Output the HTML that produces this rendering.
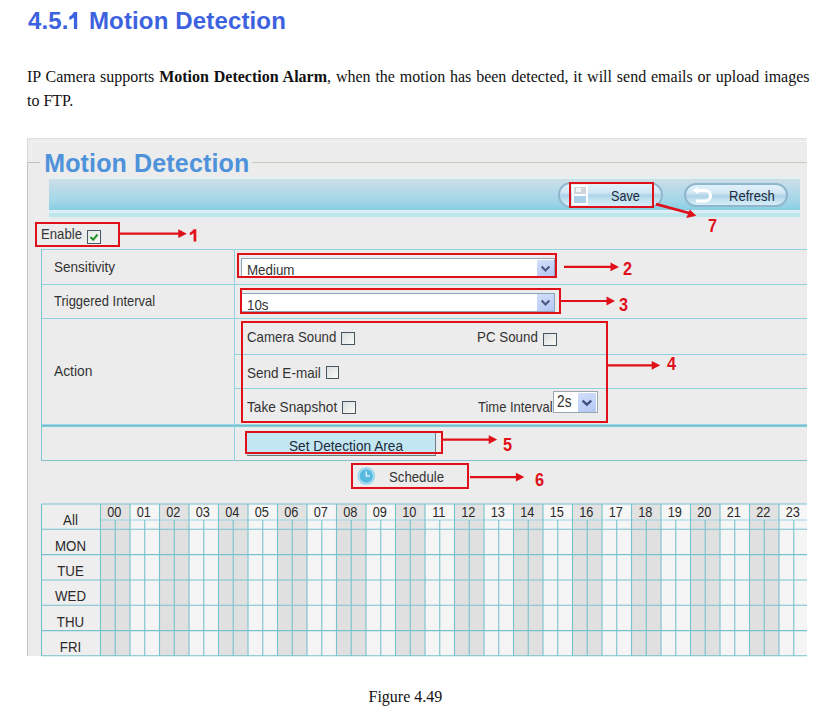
<!DOCTYPE html>
<html><head><meta charset="utf-8">
<style>
html,body{margin:0;padding:0;background:#fff;width:820px;height:709px;overflow:hidden;position:relative;}
.a{position:absolute;}
.t{position:absolute;line-height:1;white-space:nowrap;font-family:"Liberation Sans",sans-serif;}
.s{position:absolute;line-height:1;white-space:nowrap;font-family:"Liberation Serif",serif;color:#111;}
.ui{font-size:15px;color:#333333;transform-origin:0 0;transform:scaleX(0.92);}
.rb{position:absolute;border:2px solid #e0101a;box-sizing:border-box;}
.cb{position:absolute;width:13.7px;height:13.2px;box-sizing:border-box;border:1px solid #485662;background:linear-gradient(135deg,#d8e0e2,#fafaf4);}
.sel{position:absolute;box-sizing:border-box;border:1px solid #8ea4b8;background:#fff;}
.dd{position:absolute;box-sizing:border-box;background:linear-gradient(160deg,#d2defa,#b4c8f4);}
.num{position:absolute;line-height:1;font-family:"Liberation Sans",sans-serif;font-weight:bold;color:#e0101a;font-size:18.5px;transform-origin:0 0;transform:scaleX(0.88);}
</style></head>
<body>
<!-- Heading -->
<div class="t" style="left:28px;top:8.5px;font-size:24px;font-weight:bold;color:#3d62e0;letter-spacing:0.15px;">4.5.<span style="display:inline-block;width:13.49px;"></span> Motion Detection</div>
<svg class="a" style="left:60px;top:8px;" width="30" height="25"><path d="M13.9 4 H17.2 V20.9 H13.9 V9.6 Q11.6 11.2 9.3 11.9 V8.6 Q12.6 7.2 13.9 4 Z" fill="#3d62e0"/></svg>
<!-- Paragraph -->
<div class="s" style="left:27px;top:69.3px;font-size:16px;width:782.5px;text-align:justify;text-align-last:justify;white-space:normal;">IP Camera supports <b>Motion Detection Alarm</b>, when the motion has been detected, it will send emails or upload images</div>
<div class="s" style="left:27px;top:92.5px;font-size:16px;">to FTP.</div>

<!-- Panel -->
<div class="a" style="left:27px;top:138px;width:780px;height:518px;background:#ececec;"></div>
<!-- fieldset lines -->
<div class="a" style="left:27px;top:138px;width:780px;height:1px;background:#e2e2e2;"></div>
<div class="a" style="left:31px;top:141px;width:776px;height:1px;background:#f3f3f3;"></div>
<div class="a" style="left:31px;top:141px;width:1px;height:21px;background:#f3f3f3;"></div>
<div class="a" style="left:27px;top:162px;width:13px;height:1px;background:#c0c0b8;"></div>
<div class="a" style="left:27px;top:138px;width:1px;height:24px;background:#dcdcdc;"></div>
<div class="a" style="left:27px;top:162px;width:1px;height:494px;background:#c4c4c4;"></div>
<div class="a" style="left:252px;top:162px;width:555px;height:1px;background:#cac7bb;"></div>
<div class="t" style="left:44.2px;top:151.3px;font-size:25px;font-weight:bold;color:#4d92da;letter-spacing:0.15px;">Motion Detection</div>

<!-- Blue bar -->
<div class="a" style="left:49px;top:176.5px;width:751px;height:2.5px;background:#e2f1f4;"></div>
<div class="a" style="left:49px;top:179px;width:751px;height:31px;background:linear-gradient(180deg,#cddee5 0%,#badbe9 30%,#a3d6e8 70%,#88cfe2 100%);"></div>
<div class="a" style="left:49px;top:210px;width:751px;height:3px;background:#dcedf8;"></div>
<div class="a" style="left:49px;top:213px;width:751px;height:4px;background:#bce6ea;"></div>
<div class="a" style="left:49px;top:217px;width:751px;height:3px;background:#e7eaef;"></div>

<!-- Save / Refresh buttons -->
<div class="a" style="left:557.5px;top:181.5px;width:105.5px;height:26.5px;box-sizing:border-box;border:2px solid #8fb6cc;border-radius:13.5px;background:linear-gradient(180deg,#e2f1fa 0%,#d2e8f5 38%,#aed3e8 52%,#c2e2f1 72%,#d6edf8 100%);"></div>
<div class="a" style="left:571.5px;top:185px;width:16px;height:20px;background:#fbfdff;"></div>
<div class="a" style="left:573.5px;top:187px;width:12px;height:7px;background:#cfd5dc;"></div>
<div class="a" style="left:576px;top:188px;width:5px;height:4px;background:#f2f5f8;"></div>
<div class="a" style="left:573.5px;top:196px;width:12px;height:7px;background:#acd0e6;"></div>
<div class="t ui" style="left:610.7px;top:188.27px;color:#1d2a3a;transform:scaleX(0.841);">Save</div>
<div class="a" style="left:683.8px;top:182.8px;width:104.5px;height:24px;box-sizing:border-box;border:2px solid #8fb6cc;border-radius:12px;background:linear-gradient(180deg,#e2f1fa 0%,#d2e8f5 38%,#aed3e8 55%,#c2e2f1 75%,#d6edf8 100%);"></div>
<svg class="a" style="left:688px;top:184px;" width="30" height="22" viewBox="0 0 30 22"><path d="M8.5 6.5 H18 A5.3 5.3 0 0 1 18 17 H8" fill="none" stroke="#fff" stroke-width="3"/><path d="M4.5 6.5 L10 3 L10 10 Z" fill="#fff"/></svg>
<div class="t ui" style="left:728.7px;top:188.27px;color:#1d2a3a;transform:scaleX(0.870);">Refresh</div>

<!-- Enable -->
<div class="t ui" style="left:41.4px;top:226.47px;transform:scaleX(0.877);">Enable</div>
<div class="cb" style="left:87px;top:230px;width:14px;height:14px;border-color:#4a5866;background:linear-gradient(135deg,#e6eae6,#f6fbf6);"></div>
<svg class="a" style="left:87px;top:230px;" width="14" height="14"><path d="M3.5 7 L6.2 9.8 L10.5 4.5" fill="none" stroke="#2a902e" stroke-width="2"/></svg>

<!-- Form table lines -->
<div class="a" style="left:41px;top:249px;width:766px;height:1px;background:#90d2e0;"></div>
<div class="a" style="left:41px;top:284px;width:766px;height:1px;background:#90d2e0;"></div>
<div class="a" style="left:41px;top:318px;width:766px;height:1px;background:#90d2e0;"></div>
<div class="a" style="left:235px;top:354px;width:572px;height:1px;background:#90d2e0;"></div>
<div class="a" style="left:235px;top:388px;width:572px;height:1px;background:#90d2e0;"></div>
<div class="a" style="left:41px;top:424px;width:766px;height:1px;background:#9ed6e4;"></div>
<div class="a" style="left:41px;top:425px;width:766px;height:1px;background:#74bccc;"></div>
<div class="a" style="left:41px;top:426px;width:766px;height:1px;background:#88cad8;"></div>
<div class="a" style="left:41px;top:427px;width:766px;height:1px;background:#dcedf0;"></div>
<div class="a" style="left:41px;top:460px;width:766px;height:1px;background:#88c2ce;"></div>
<div class="a" style="left:41px;top:249px;width:1px;height:212px;background:#7fc6d6;"></div>
<div class="a" style="left:234px;top:249px;width:1px;height:212px;background:#90d2e0;"></div>

<div class="t ui" style="left:54.3px;top:259.4px;transform:scaleX(0.903);">Sensitivity</div>
<div class="t ui" style="left:53.6px;top:293.07px;transform:scaleX(0.864);">Triggered Interval</div>
<div class="t ui" style="left:54px;top:362.87px;transform:scaleX(0.92);">Action</div>

<!-- selects -->
<div class="sel" style="left:241px;top:258px;width:314px;height:18.5px;"></div>
<div class="dd" style="left:536.8px;top:259.5px;width:17px;height:16.5px;"></div>
<svg class="a" style="left:536.8px;top:259.5px;" width="17" height="17"><path d="M4.6 6.5 L8.5 10.5 L12.4 6.5" fill="none" stroke="#4a5a82" stroke-width="2.2"/></svg>
<div class="t ui" style="left:246.5px;top:261.57px;transform:scaleX(0.89);">Medium</div>

<div class="sel" style="left:241px;top:292.5px;width:314px;height:19px;"></div>
<div class="dd" style="left:536.8px;top:294px;width:17px;height:16.5px;"></div>
<svg class="a" style="left:536.8px;top:294px;" width="17" height="17"><path d="M4.6 6.5 L8.5 10.5 L12.4 6.5" fill="none" stroke="#4a5a82" stroke-width="2.2"/></svg>
<div class="t ui" style="left:246.5px;top:296.67px;transform:scaleX(0.89);">10s</div>

<!-- action -->
<div class="t ui" style="left:246.9px;top:328.8px;transform:scaleX(0.885);">Camera Sound</div>
<div class="cb" style="left:341.2px;top:331.8px;"></div>
<div class="t ui" style="left:476.7px;top:329.17px;transform:scaleX(0.89);">PC Sound</div>
<div class="cb" style="left:543px;top:332.5px;"></div>
<div class="t ui" style="left:246.9px;top:365.07px;transform:scaleX(0.902);">Send E-mail</div>
<div class="cb" style="left:325.5px;top:365.5px;"></div>
<div class="t ui" style="left:246.9px;top:398.87px;transform:scaleX(0.909);">Take Snapshot</div>
<div class="cb" style="left:342px;top:401px;"></div>
<div class="t ui" style="left:477.6px;top:398.87px;transform:scaleX(0.866);">Time Interval</div>
<div class="sel" style="left:553.2px;top:391.2px;width:45px;height:22.3px;border-color:#9aa6b0;"></div>
<div class="dd" style="left:578.3px;top:392.7px;width:17.5px;height:19px;"></div>
<svg class="a" style="left:578.3px;top:392.7px;" width="18" height="19"><path d="M4.6 7.6 L8.9 11.6 L13.2 7.6" fill="none" stroke="#3f5380" stroke-width="2.4"/></svg>
<div class="t ui" style="left:557px;top:394.4px;font-size:16px;transform:scaleX(0.86);">2s</div>

<!-- Set Detection Area -->
<div class="a" style="left:247px;top:433px;width:189px;height:22.7px;background:#c2e7f3;border-right:1.5px solid #6f7c88;border-bottom:1.5px solid #6c7874;box-sizing:border-box;"></div>
<div class="t ui" style="left:289.3px;top:437.5px;color:#1d2a3a;transform:scaleX(0.912);">Set Detection Area</div>

<!-- Schedule -->
<svg class="a" style="left:356px;top:466px;" width="21" height="21" viewBox="0 0 21 21"><circle cx="10.3" cy="10" r="8.8" fill="#8fd2ec"/><circle cx="10.3" cy="10" r="7.6" fill="#c4e9f6"/><circle cx="10.3" cy="10" r="6.8" fill="#58b9e0"/><path d="M10.3 5.2 V10.2 H14" fill="none" stroke="#e8f6fb" stroke-width="1.3"/></svg>
<div class="t ui" style="left:388.8px;top:469.07px;transform:scaleX(0.880);">Schedule</div>

<!-- Red boxes -->
<div class="rb" style="left:34.6px;top:221.8px;width:85px;height:25.7px;"></div>
<div class="rb" style="left:237.4px;top:253.3px;width:320px;height:25.2px;"></div>
<div class="rb" style="left:240.3px;top:288.2px;width:321px;height:25.8px;"></div>
<div class="rb" style="left:241px;top:320.5px;width:367px;height:102.5px;"></div>
<div class="rb" style="left:245.3px;top:430.9px;width:198.2px;height:23px;"></div>
<div class="rb" style="left:351px;top:462.8px;width:117.8px;height:26.1px;"></div>
<div class="rb" style="left:568.7px;top:181.9px;width:85px;height:25.7px;"></div>

<!-- arrows -->
<svg class="a" style="left:0;top:0;" width="820" height="709">
<g stroke="#e0101a" stroke-width="2.2" fill="#e0101a">
<line x1="119" y1="233.7" x2="179.3" y2="233.7"/><path d="M178.3 229.3 L186.8 233.7 L178.3 238.1 Z" stroke="none"/>
<line x1="564" y1="266.9" x2="611.5" y2="266.9"/><path d="M610.5 262.5 L619 266.9 L610.5 271.3 Z" stroke="none"/>
<line x1="561" y1="301" x2="607.5" y2="301"/><path d="M606.5 296.6 L615 301 L606.5 305.4 Z" stroke="none"/>
<line x1="607" y1="365.3" x2="652.7" y2="365.3"/><path d="M651.7 360.9 L660.2 365.3 L651.7 369.7 Z" stroke="none"/>
<line x1="443" y1="439.6" x2="489.7" y2="439.6"/><path d="M488.7 435.2 L497.2 439.6 L488.7 444.0 Z" stroke="none"/>
<line x1="470" y1="477.1" x2="516.9" y2="477.1"/><path d="M515.9 472.7 L524.4 477.1 L515.9 481.5 Z" stroke="none"/>
<line x1="656" y1="204.2" x2="689" y2="213" stroke-width="2.8"/><path d="M689.8 209.6 L696.3 215.8 L686.3 218 Z" stroke="none"/>
</g>
</svg>
<svg class="a" style="left:186px;top:226px;" width="14" height="18"><path d="M7.6 3.3 H10.3 V15.6 H7.6 V7.2 Q5.8 8.6 3.8 9.2 V6.8 Q6.4 5.6 7.6 3.3 Z" fill="#e3111b"/></svg>
<div class="num" style="left:623.2px;top:259.7px;">2</div>
<div class="num" style="left:618.9px;top:295.7px;">3</div>
<div class="num" style="left:666.9px;top:354.8px;">4</div>
<div class="num" style="left:503.2px;top:436.1px;">5</div>
<div class="num" style="left:534.7px;top:470.5px;">6</div>
<div class="num" style="left:707.9px;top:217.2px;">7</div>

<!-- Grid -->
<svg id="grid" class="a" style="left:0;top:0;" width="820" height="709"><defs><clipPath id="gc"><rect x="0" y="0" width="807" height="709"/></clipPath></defs><g clip-path="url(#gc)"><rect x="41.5" y="504.0" width="59.0" height="152.0" fill="#eeeeee"/><rect x="100.5" y="504.0" width="29.5" height="16.0" fill="#e2e2e2"/><rect x="100.5" y="520.0" width="29.5" height="136.0" fill="#e0e0e0"/><rect x="130.0" y="504.0" width="29.5" height="16.0" fill="#f6f6f6"/><rect x="130.0" y="520.0" width="29.5" height="136.0" fill="#f5f5f5"/><rect x="159.5" y="504.0" width="29.5" height="16.0" fill="#e2e2e2"/><rect x="159.5" y="520.0" width="29.5" height="136.0" fill="#e0e0e0"/><rect x="189.0" y="504.0" width="29.5" height="16.0" fill="#f6f6f6"/><rect x="189.0" y="520.0" width="29.5" height="136.0" fill="#f5f5f5"/><rect x="218.5" y="504.0" width="29.5" height="16.0" fill="#e2e2e2"/><rect x="218.5" y="520.0" width="29.5" height="136.0" fill="#e0e0e0"/><rect x="248.0" y="504.0" width="29.5" height="16.0" fill="#f6f6f6"/><rect x="248.0" y="520.0" width="29.5" height="136.0" fill="#f5f5f5"/><rect x="277.5" y="504.0" width="29.5" height="16.0" fill="#e2e2e2"/><rect x="277.5" y="520.0" width="29.5" height="136.0" fill="#e0e0e0"/><rect x="307.0" y="504.0" width="29.5" height="16.0" fill="#f6f6f6"/><rect x="307.0" y="520.0" width="29.5" height="136.0" fill="#f5f5f5"/><rect x="336.5" y="504.0" width="29.5" height="16.0" fill="#e2e2e2"/><rect x="336.5" y="520.0" width="29.5" height="136.0" fill="#e0e0e0"/><rect x="366.0" y="504.0" width="29.5" height="16.0" fill="#f6f6f6"/><rect x="366.0" y="520.0" width="29.5" height="136.0" fill="#f5f5f5"/><rect x="395.5" y="504.0" width="29.5" height="16.0" fill="#e2e2e2"/><rect x="395.5" y="520.0" width="29.5" height="136.0" fill="#e0e0e0"/><rect x="425.0" y="504.0" width="29.5" height="16.0" fill="#f6f6f6"/><rect x="425.0" y="520.0" width="29.5" height="136.0" fill="#f5f5f5"/><rect x="454.5" y="504.0" width="29.5" height="16.0" fill="#e2e2e2"/><rect x="454.5" y="520.0" width="29.5" height="136.0" fill="#e0e0e0"/><rect x="484.0" y="504.0" width="29.5" height="16.0" fill="#f6f6f6"/><rect x="484.0" y="520.0" width="29.5" height="136.0" fill="#f5f5f5"/><rect x="513.5" y="504.0" width="29.5" height="16.0" fill="#e2e2e2"/><rect x="513.5" y="520.0" width="29.5" height="136.0" fill="#e0e0e0"/><rect x="543.0" y="504.0" width="29.5" height="16.0" fill="#f6f6f6"/><rect x="543.0" y="520.0" width="29.5" height="136.0" fill="#f5f5f5"/><rect x="572.5" y="504.0" width="29.5" height="16.0" fill="#e2e2e2"/><rect x="572.5" y="520.0" width="29.5" height="136.0" fill="#e0e0e0"/><rect x="602.0" y="504.0" width="29.5" height="16.0" fill="#f6f6f6"/><rect x="602.0" y="520.0" width="29.5" height="136.0" fill="#f5f5f5"/><rect x="631.5" y="504.0" width="29.5" height="16.0" fill="#e2e2e2"/><rect x="631.5" y="520.0" width="29.5" height="136.0" fill="#e0e0e0"/><rect x="661.0" y="504.0" width="29.5" height="16.0" fill="#f6f6f6"/><rect x="661.0" y="520.0" width="29.5" height="136.0" fill="#f5f5f5"/><rect x="690.5" y="504.0" width="29.5" height="16.0" fill="#e2e2e2"/><rect x="690.5" y="520.0" width="29.5" height="136.0" fill="#e0e0e0"/><rect x="720.0" y="504.0" width="29.5" height="16.0" fill="#f6f6f6"/><rect x="720.0" y="520.0" width="29.5" height="136.0" fill="#f5f5f5"/><rect x="749.5" y="504.0" width="29.5" height="16.0" fill="#e2e2e2"/><rect x="749.5" y="520.0" width="29.5" height="136.0" fill="#e0e0e0"/><rect x="779.0" y="504.0" width="29.5" height="16.0" fill="#f6f6f6"/><rect x="779.0" y="520.0" width="29.5" height="136.0" fill="#f5f5f5"/><line x1="41.5" y1="504.0" x2="807" y2="504.0" stroke="#78c2cd" stroke-width="1.1"/><line x1="41.5" y1="529.3" x2="807" y2="529.3" stroke="#78c2cd" stroke-width="1.1"/><line x1="41.5" y1="554.63" x2="807" y2="554.63" stroke="#78c2cd" stroke-width="1.1"/><line x1="41.5" y1="579.9599999999999" x2="807" y2="579.9599999999999" stroke="#78c2cd" stroke-width="1.1"/><line x1="41.5" y1="605.29" x2="807" y2="605.29" stroke="#78c2cd" stroke-width="1.1"/><line x1="41.5" y1="630.6199999999999" x2="807" y2="630.6199999999999" stroke="#78c2cd" stroke-width="1.1"/><line x1="41.5" y1="655.8" x2="807" y2="655.8" stroke="#78c2cd" stroke-width="1.1"/><line x1="100.5" y1="520.0" x2="807" y2="520.0" stroke="#9ad6e0" stroke-width="1"/><line x1="41.5" y1="504.0" x2="41.5" y2="656.0" stroke="#78c2cd" stroke-width="1.1"/><line x1="100.5" y1="504.0" x2="100.5" y2="656.0" stroke="#78c2cd" stroke-width="1.1"/><line x1="115.25" y1="520.0" x2="115.25" y2="656.0" stroke="#78c2cd" stroke-width="1.1"/><line x1="130.0" y1="504.0" x2="130.0" y2="656.0" stroke="#78c2cd" stroke-width="1.1"/><line x1="144.75" y1="520.0" x2="144.75" y2="656.0" stroke="#78c2cd" stroke-width="1.1"/><line x1="159.5" y1="504.0" x2="159.5" y2="656.0" stroke="#78c2cd" stroke-width="1.1"/><line x1="174.25" y1="520.0" x2="174.25" y2="656.0" stroke="#78c2cd" stroke-width="1.1"/><line x1="189.0" y1="504.0" x2="189.0" y2="656.0" stroke="#78c2cd" stroke-width="1.1"/><line x1="203.75" y1="520.0" x2="203.75" y2="656.0" stroke="#78c2cd" stroke-width="1.1"/><line x1="218.5" y1="504.0" x2="218.5" y2="656.0" stroke="#78c2cd" stroke-width="1.1"/><line x1="233.25" y1="520.0" x2="233.25" y2="656.0" stroke="#78c2cd" stroke-width="1.1"/><line x1="248.0" y1="504.0" x2="248.0" y2="656.0" stroke="#78c2cd" stroke-width="1.1"/><line x1="262.75" y1="520.0" x2="262.75" y2="656.0" stroke="#78c2cd" stroke-width="1.1"/><line x1="277.5" y1="504.0" x2="277.5" y2="656.0" stroke="#78c2cd" stroke-width="1.1"/><line x1="292.25" y1="520.0" x2="292.25" y2="656.0" stroke="#78c2cd" stroke-width="1.1"/><line x1="307.0" y1="504.0" x2="307.0" y2="656.0" stroke="#78c2cd" stroke-width="1.1"/><line x1="321.75" y1="520.0" x2="321.75" y2="656.0" stroke="#78c2cd" stroke-width="1.1"/><line x1="336.5" y1="504.0" x2="336.5" y2="656.0" stroke="#78c2cd" stroke-width="1.1"/><line x1="351.25" y1="520.0" x2="351.25" y2="656.0" stroke="#78c2cd" stroke-width="1.1"/><line x1="366.0" y1="504.0" x2="366.0" y2="656.0" stroke="#78c2cd" stroke-width="1.1"/><line x1="380.75" y1="520.0" x2="380.75" y2="656.0" stroke="#78c2cd" stroke-width="1.1"/><line x1="395.5" y1="504.0" x2="395.5" y2="656.0" stroke="#78c2cd" stroke-width="1.1"/><line x1="410.25" y1="520.0" x2="410.25" y2="656.0" stroke="#78c2cd" stroke-width="1.1"/><line x1="425.0" y1="504.0" x2="425.0" y2="656.0" stroke="#78c2cd" stroke-width="1.1"/><line x1="439.75" y1="520.0" x2="439.75" y2="656.0" stroke="#78c2cd" stroke-width="1.1"/><line x1="454.5" y1="504.0" x2="454.5" y2="656.0" stroke="#78c2cd" stroke-width="1.1"/><line x1="469.25" y1="520.0" x2="469.25" y2="656.0" stroke="#78c2cd" stroke-width="1.1"/><line x1="484.0" y1="504.0" x2="484.0" y2="656.0" stroke="#78c2cd" stroke-width="1.1"/><line x1="498.75" y1="520.0" x2="498.75" y2="656.0" stroke="#78c2cd" stroke-width="1.1"/><line x1="513.5" y1="504.0" x2="513.5" y2="656.0" stroke="#78c2cd" stroke-width="1.1"/><line x1="528.25" y1="520.0" x2="528.25" y2="656.0" stroke="#78c2cd" stroke-width="1.1"/><line x1="543.0" y1="504.0" x2="543.0" y2="656.0" stroke="#78c2cd" stroke-width="1.1"/><line x1="557.75" y1="520.0" x2="557.75" y2="656.0" stroke="#78c2cd" stroke-width="1.1"/><line x1="572.5" y1="504.0" x2="572.5" y2="656.0" stroke="#78c2cd" stroke-width="1.1"/><line x1="587.25" y1="520.0" x2="587.25" y2="656.0" stroke="#78c2cd" stroke-width="1.1"/><line x1="602.0" y1="504.0" x2="602.0" y2="656.0" stroke="#78c2cd" stroke-width="1.1"/><line x1="616.75" y1="520.0" x2="616.75" y2="656.0" stroke="#78c2cd" stroke-width="1.1"/><line x1="631.5" y1="504.0" x2="631.5" y2="656.0" stroke="#78c2cd" stroke-width="1.1"/><line x1="646.25" y1="520.0" x2="646.25" y2="656.0" stroke="#78c2cd" stroke-width="1.1"/><line x1="661.0" y1="504.0" x2="661.0" y2="656.0" stroke="#78c2cd" stroke-width="1.1"/><line x1="675.75" y1="520.0" x2="675.75" y2="656.0" stroke="#78c2cd" stroke-width="1.1"/><line x1="690.5" y1="504.0" x2="690.5" y2="656.0" stroke="#78c2cd" stroke-width="1.1"/><line x1="705.25" y1="520.0" x2="705.25" y2="656.0" stroke="#78c2cd" stroke-width="1.1"/><line x1="720.0" y1="504.0" x2="720.0" y2="656.0" stroke="#78c2cd" stroke-width="1.1"/><line x1="734.75" y1="520.0" x2="734.75" y2="656.0" stroke="#78c2cd" stroke-width="1.1"/><line x1="749.5" y1="504.0" x2="749.5" y2="656.0" stroke="#78c2cd" stroke-width="1.1"/><line x1="764.25" y1="520.0" x2="764.25" y2="656.0" stroke="#78c2cd" stroke-width="1.1"/><line x1="779.0" y1="504.0" x2="779.0" y2="656.0" stroke="#78c2cd" stroke-width="1.1"/><line x1="793.75" y1="520.0" x2="793.75" y2="656.0" stroke="#78c2cd" stroke-width="1.1"/><line x1="808.5" y1="504.0" x2="808.5" y2="656.0" stroke="#78c2cd" stroke-width="1.1"/><line x1="823.25" y1="520.0" x2="823.25" y2="656.0" stroke="#78c2cd" stroke-width="1.1"/><text transform="translate(70.5,525.40) scale(0.95,1)" text-anchor="middle" font-family="Liberation Sans" font-size="14" fill="#2a2a2a">All</text><text transform="translate(70.5,550.73) scale(0.95,1)" text-anchor="middle" font-family="Liberation Sans" font-size="14" fill="#2a2a2a">MON</text><text transform="translate(70.5,576.06) scale(0.95,1)" text-anchor="middle" font-family="Liberation Sans" font-size="14" fill="#2a2a2a">TUE</text><text transform="translate(70.5,601.39) scale(0.95,1)" text-anchor="middle" font-family="Liberation Sans" font-size="14" fill="#2a2a2a">WED</text><text transform="translate(70.5,626.72) scale(0.95,1)" text-anchor="middle" font-family="Liberation Sans" font-size="14" fill="#2a2a2a">THU</text><text transform="translate(70.5,652.05) scale(0.95,1)" text-anchor="middle" font-family="Liberation Sans" font-size="14" fill="#2a2a2a">FRI</text><text transform="translate(114.25,516.9) scale(0.88,1)" text-anchor="middle" font-family="Liberation Sans" font-size="14.5" fill="#2a2a2a">00</text><text transform="translate(143.75,516.9) scale(0.88,1)" text-anchor="middle" font-family="Liberation Sans" font-size="14.5" fill="#2a2a2a">01</text><text transform="translate(173.25,516.9) scale(0.88,1)" text-anchor="middle" font-family="Liberation Sans" font-size="14.5" fill="#2a2a2a">02</text><text transform="translate(202.75,516.9) scale(0.88,1)" text-anchor="middle" font-family="Liberation Sans" font-size="14.5" fill="#2a2a2a">03</text><text transform="translate(232.25,516.9) scale(0.88,1)" text-anchor="middle" font-family="Liberation Sans" font-size="14.5" fill="#2a2a2a">04</text><text transform="translate(261.75,516.9) scale(0.88,1)" text-anchor="middle" font-family="Liberation Sans" font-size="14.5" fill="#2a2a2a">05</text><text transform="translate(291.25,516.9) scale(0.88,1)" text-anchor="middle" font-family="Liberation Sans" font-size="14.5" fill="#2a2a2a">06</text><text transform="translate(320.75,516.9) scale(0.88,1)" text-anchor="middle" font-family="Liberation Sans" font-size="14.5" fill="#2a2a2a">07</text><text transform="translate(350.25,516.9) scale(0.88,1)" text-anchor="middle" font-family="Liberation Sans" font-size="14.5" fill="#2a2a2a">08</text><text transform="translate(379.75,516.9) scale(0.88,1)" text-anchor="middle" font-family="Liberation Sans" font-size="14.5" fill="#2a2a2a">09</text><text transform="translate(409.25,516.9) scale(0.88,1)" text-anchor="middle" font-family="Liberation Sans" font-size="14.5" fill="#2a2a2a">10</text><text transform="translate(438.75,516.9) scale(0.88,1)" text-anchor="middle" font-family="Liberation Sans" font-size="14.5" fill="#2a2a2a">11</text><text transform="translate(468.25,516.9) scale(0.88,1)" text-anchor="middle" font-family="Liberation Sans" font-size="14.5" fill="#2a2a2a">12</text><text transform="translate(497.75,516.9) scale(0.88,1)" text-anchor="middle" font-family="Liberation Sans" font-size="14.5" fill="#2a2a2a">13</text><text transform="translate(527.25,516.9) scale(0.88,1)" text-anchor="middle" font-family="Liberation Sans" font-size="14.5" fill="#2a2a2a">14</text><text transform="translate(556.75,516.9) scale(0.88,1)" text-anchor="middle" font-family="Liberation Sans" font-size="14.5" fill="#2a2a2a">15</text><text transform="translate(586.25,516.9) scale(0.88,1)" text-anchor="middle" font-family="Liberation Sans" font-size="14.5" fill="#2a2a2a">16</text><text transform="translate(615.75,516.9) scale(0.88,1)" text-anchor="middle" font-family="Liberation Sans" font-size="14.5" fill="#2a2a2a">17</text><text transform="translate(645.25,516.9) scale(0.88,1)" text-anchor="middle" font-family="Liberation Sans" font-size="14.5" fill="#2a2a2a">18</text><text transform="translate(674.75,516.9) scale(0.88,1)" text-anchor="middle" font-family="Liberation Sans" font-size="14.5" fill="#2a2a2a">19</text><text transform="translate(704.25,516.9) scale(0.88,1)" text-anchor="middle" font-family="Liberation Sans" font-size="14.5" fill="#2a2a2a">20</text><text transform="translate(733.75,516.9) scale(0.88,1)" text-anchor="middle" font-family="Liberation Sans" font-size="14.5" fill="#2a2a2a">21</text><text transform="translate(763.25,516.9) scale(0.88,1)" text-anchor="middle" font-family="Liberation Sans" font-size="14.5" fill="#2a2a2a">22</text><text transform="translate(792.75,516.9) scale(0.88,1)" text-anchor="middle" font-family="Liberation Sans" font-size="14.5" fill="#2a2a2a">23</text></g></svg>

<!-- Figure caption -->
<div class="s" style="left:368.5px;top:688.7px;font-size:16px;">Figure 4.49</div>
</body></html>
